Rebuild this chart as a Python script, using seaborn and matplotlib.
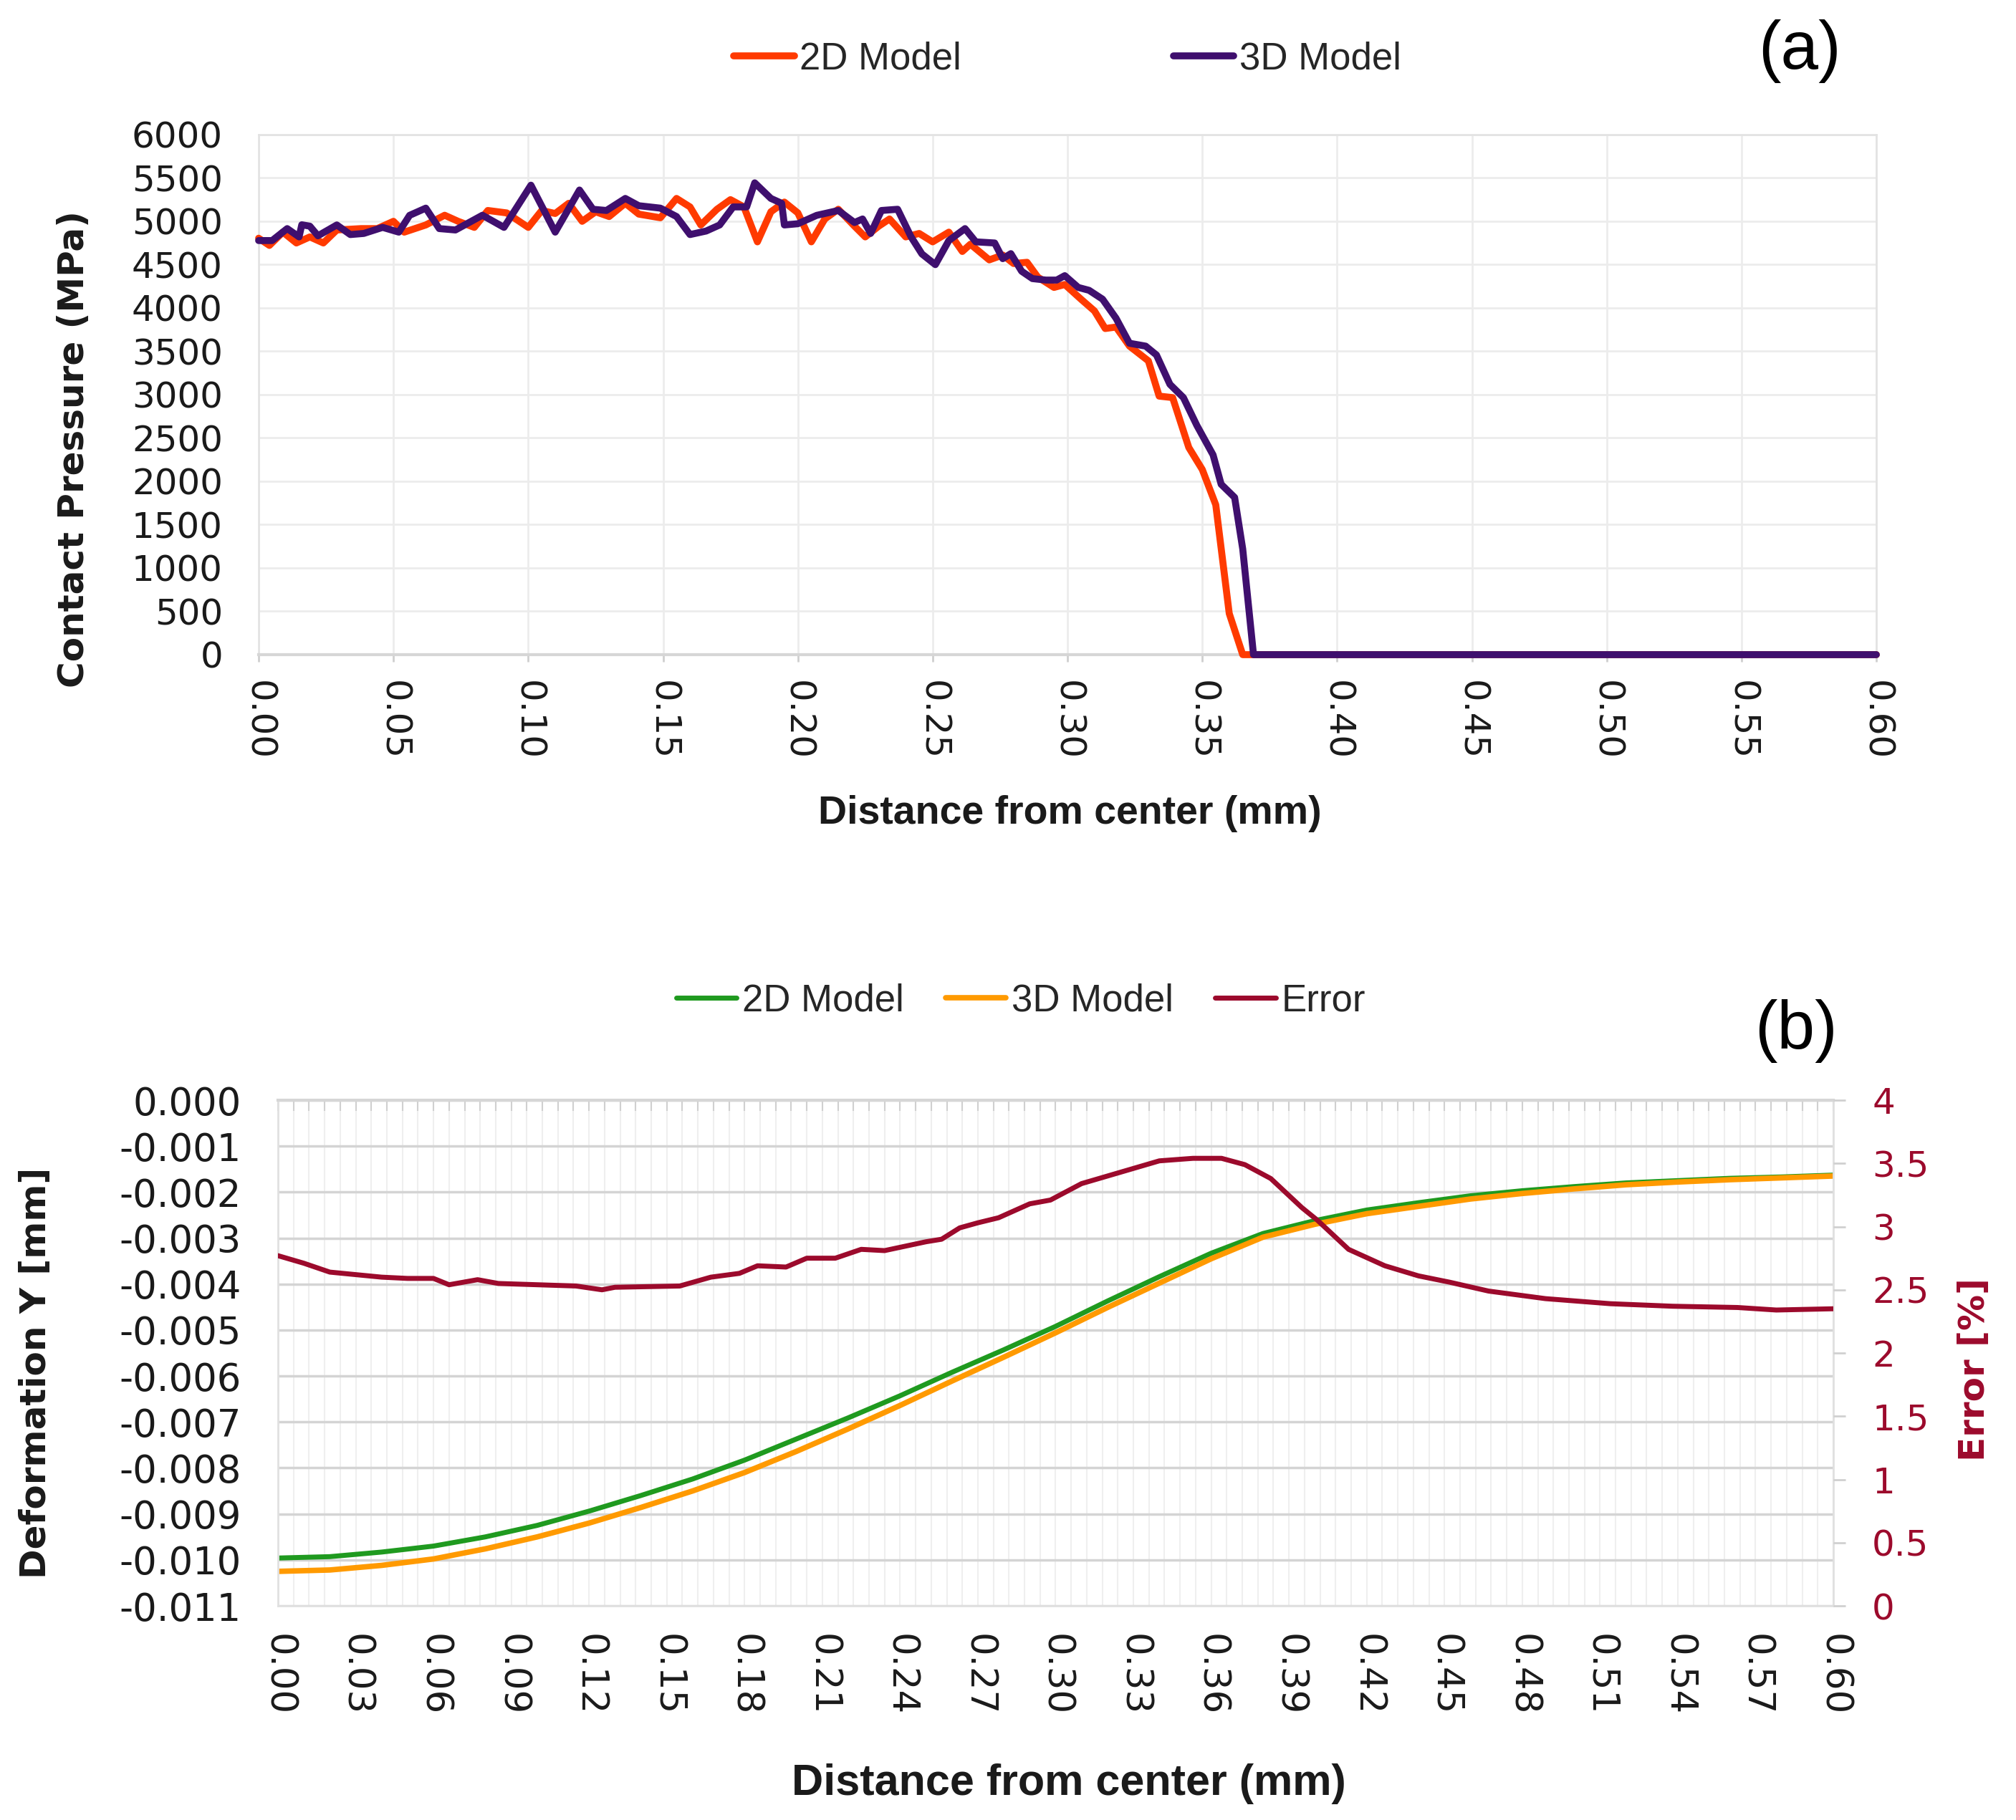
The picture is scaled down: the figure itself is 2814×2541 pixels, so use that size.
import numpy as np
import matplotlib.pyplot as plt
import seaborn as sns

# (a) contact pressure along the radius
x_2d_a = [0.000, 0.004, 0.009, 0.014, 0.019, 0.024, 0.029, 0.038, 0.044, 0.050,
          0.054, 0.062, 0.069, 0.074, 0.080, 0.085, 0.092, 0.100, 0.105, 0.110,
          0.115, 0.120, 0.125, 0.130, 0.136, 0.141, 0.149, 0.155, 0.160, 0.164,
          0.170, 0.175, 0.180, 0.185, 0.190, 0.195, 0.200, 0.205, 0.210, 0.215,
          0.221, 0.225, 0.230, 0.234, 0.240, 0.245, 0.250, 0.256, 0.261, 0.264,
          0.271, 0.276, 0.280, 0.285, 0.289, 0.295, 0.299, 0.305, 0.310, 0.314,
          0.318, 0.323, 0.330, 0.334, 0.339, 0.345, 0.350, 0.355, 0.360, 0.365,
          0.600]
p_2d_a = [4805, 4722, 4875, 4750, 4820, 4750, 4900, 4916, 4916, 5000,
          4875, 4958, 5070, 5000, 4930, 5125, 5097, 4930, 5125, 5090,
          5208, 5000, 5110, 5055, 5208, 5083, 5041, 5264, 5166, 4958,
          5139, 5250, 5166, 4763, 5110, 5222, 5097, 4763, 5027, 5139,
          4944, 4820, 4944, 5027, 4820, 4860, 4763, 4875, 4652, 4736,
          4555, 4611, 4513, 4527, 4356, 4237, 4271, 4102, 3966, 3763,
          3780, 3560, 3390, 2983, 2966, 2390, 2136, 1729, 475, 0,
          0]
x_3d_a = [0.000, 0.005, 0.0106, 0.015, 0.016, 0.019, 0.022, 0.029, 0.034, 0.039,
          0.046, 0.052, 0.056, 0.062, 0.067, 0.073, 0.083, 0.091, 0.101, 0.110,
          0.119, 0.124, 0.129, 0.136, 0.141, 0.149, 0.155, 0.160, 0.166, 0.171,
          0.176, 0.181, 0.184, 0.190, 0.194, 0.195, 0.200, 0.207, 0.215, 0.221,
          0.224, 0.227, 0.231, 0.237, 0.242, 0.246, 0.251, 0.256, 0.262, 0.266,
          0.273, 0.276, 0.279, 0.283, 0.287, 0.292, 0.296, 0.299, 0.304, 0.308,
          0.313, 0.318, 0.323, 0.329, 0.333, 0.338, 0.343, 0.348, 0.354, 0.357,
          0.362, 0.365, 0.369, 0.600]
p_3d_a = [4778, 4778, 4916, 4820, 4960, 4944, 4833, 4958, 4847, 4860,
          4930, 4875, 5069, 5152, 4916, 4900, 5070, 4930, 5417, 4875,
          5361, 5139, 5125, 5264, 5180, 5152, 5055, 4847, 4888, 4958,
          5166, 5166, 5444, 5264, 5208, 4958, 4972, 5069, 5125, 4986,
          5027, 4860, 5125, 5139, 4820, 4624, 4500, 4778, 4916, 4763,
          4750, 4569, 4627, 4424, 4339, 4322, 4322, 4373, 4237, 4204,
          4102, 3882, 3593, 3560, 3458, 3119, 2966, 2644, 2305, 1966,
          1814, 1220, 0, 0]

# (b) deformation Y (mm) and error (%)
x_def = [0.00, 0.02, 0.04, 0.06, 0.08, 0.10, 0.12, 0.14, 0.16, 0.18,
         0.20, 0.22, 0.24, 0.26, 0.28, 0.30, 0.32, 0.34, 0.36, 0.38,
         0.40, 0.42, 0.44, 0.46, 0.48, 0.50, 0.52, 0.54, 0.56, 0.58, 0.60]
def_2d = [-0.00996, -0.00993, -0.00983, -0.00970, -0.00950, -0.00925, -0.00894,
          -0.00860, -0.00824, -0.00783, -0.00737, -0.00691, -0.00643, -0.00592,
          -0.00543, -0.00492, -0.00437, -0.00384, -0.00333, -0.00290, -0.00262,
          -0.00239, -0.00223, -0.00208, -0.00197, -0.00188, -0.00180, -0.00175,
          -0.00170, -0.00167, -0.00163]
def_3d = [-0.01025, -0.01022, -0.01012, -0.00998, -0.00976, -0.00950, -0.00920,
          -0.00886, -0.00850, -0.00810, -0.00764, -0.00715, -0.00664, -0.00611,
          -0.00559, -0.00506, -0.00451, -0.00398, -0.00345, -0.00298, -0.00270,
          -0.00247, -0.00231, -0.00215, -0.00203, -0.00193, -0.00184, -0.00178,
          -0.00173, -0.00169, -0.00165]
x_err = [0.000, 0.010, 0.020, 0.030, 0.040, 0.050, 0.060, 0.066, 0.077, 0.085,
         0.100, 0.115, 0.125, 0.130, 0.155, 0.167, 0.178, 0.185, 0.196, 0.204,
         0.215, 0.225, 0.234, 0.250, 0.256, 0.263, 0.270, 0.278, 0.290, 0.298,
         0.310, 0.325, 0.340, 0.353, 0.364, 0.373, 0.383, 0.395, 0.401, 0.413,
         0.427, 0.440, 0.452, 0.467, 0.489, 0.514, 0.538, 0.563, 0.578, 0.600]
err = [2.77, 2.71, 2.64, 2.62, 2.60, 2.59, 2.59, 2.54, 2.58, 2.55,
       2.54, 2.53, 2.50, 2.52, 2.53, 2.60, 2.63, 2.69, 2.68, 2.75,
       2.75, 2.82, 2.81, 2.88, 2.90, 2.99, 3.03, 3.07, 3.18, 3.21,
       3.34, 3.43, 3.52, 3.54, 3.54, 3.49, 3.38, 3.15, 3.05, 2.82,
       2.69, 2.61, 2.56, 2.49, 2.43, 2.39, 2.37, 2.36, 2.34, 2.35]

xticks_a = [0.00, 0.05, 0.10, 0.15, 0.20, 0.25, 0.30, 0.35, 0.40, 0.45, 0.50, 0.55, 0.60]
yticks_a = [0, 500, 1000, 1500, 2000, 2500, 3000, 3500, 4000, 4500, 5000, 5500, 6000]
xticks_b = [0.00, 0.03, 0.06, 0.09, 0.12, 0.15, 0.18, 0.21, 0.24, 0.27, 0.30,
            0.33, 0.36, 0.39, 0.42, 0.45, 0.48, 0.51, 0.54, 0.57, 0.60]
yticks_b = [0.000, -0.001, -0.002, -0.003, -0.004, -0.005, -0.006,
            -0.007, -0.008, -0.009, -0.010, -0.011]
yticks_err = [0, 0.5, 1, 1.5, 2, 2.5, 3, 3.5, 4]
yticklabels_err = ['0', '0.5', '1', '1.5', '2', '2.5', '3', '3.5', '4']

sns.set_theme(style='white')
plt.rcParams['font.family'] = ['DejaVu Sans']
plt.rcParams['axes.unicode_minus'] = False

c_red = '#ff3a00'
c_purple = '#3f0f6e'
c_green = '#1f9a1f'
c_orange = '#ff9a00'
c_err = '#9c0a2c'
txt = '#1a1a1a'
leg_font = {'family': 'Liberation Sans', 'size': 38}

fig = plt.figure(figsize=(28.14, 25.41), dpi=100)

# ---------- panel (a)
ax_a = fig.add_axes([0.12829, 0.64030, 0.80242, 0.28572])
sns.lineplot(x=x_2d_a, y=p_2d_a, ax=ax_a, color=c_red, lw=7, label='2D Model')
sns.lineplot(x=x_3d_a, y=p_3d_a, ax=ax_a, color=c_purple, lw=7, label='3D Model')
for ln in ax_a.lines:
    ln.set_clip_on(False)
    ln.set_zorder(4)

ax_a.set_xlim(0, 0.6)
ax_a.set_ylim(0, 6000)
ax_a.set_xticks(xticks_a)
ax_a.set_xticklabels([f'{v:.2f}' for v in xticks_a])
ax_a.set_yticks(yticks_a)
ax_a.set_yticklabels([str(v) for v in yticks_a])
ax_a.grid(True, color='#ececec', lw=2)
ax_a.tick_params(axis='y', length=0, pad=36, labelsize=36, labelcolor=txt)
ax_a.tick_params(axis='x', bottom=True, length=7, width=2, color='#cfcfcf',
                 pad=19, labelsize=36, labelcolor=txt, labelrotation=-90)
for side in ['top', 'right', 'left']:
    ax_a.spines[side].set_color('#e3e3e3')
    ax_a.spines[side].set_linewidth(2)
ax_a.spines['bottom'].set_color('#d6d6d6')
ax_a.spines['bottom'].set_linewidth(3)
ax_a.set_xlabel('')
ax_a.set_ylabel('')
ax_a.legend(loc='center', bbox_to_anchor=(0.5295, 0.9677), bbox_transform=fig.transFigure,
            ncol=2, frameon=False, prop=leg_font, handlelength=1.6,
            handletextpad=0.15, columnspacing=5.6)

fig.text(0.0366, 0.7532, 'Contact Pressure (MPa)', rotation=90, fontsize=36,
         fontweight='bold', ha='center', va='center', color=txt)
fig.text(0.5306, 0.5529, 'Distance from center (mm)', fontsize=40, fontweight='bold',
         family='Liberation Sans', ha='center', va='center', color=txt)
fig.text(0.8927, 0.9717, '(a)', fontsize=68, family='Liberation Sans',
         ha='center', va='center', color='black')

# ---------- panel (b)
ax_b = fig.add_axes([0.13788, 0.11767, 0.77150, 0.27784])
sns.lineplot(x=x_def, y=def_2d, ax=ax_b, color=c_green, lw=5, label='2D Model')
sns.lineplot(x=x_def, y=def_3d, ax=ax_b, color=c_orange, lw=5.5, label='3D Model')
ax_b.set_xlim(0, 0.6)
ax_b.set_ylim(-0.011, 0)
ax_b.set_xticks(xticks_b)
ax_b.set_xticklabels([f'{v:.2f}' for v in xticks_b])
ax_b.set_xticks(np.arange(0, 0.6001, 0.006), minor=True)
ax_b.set_yticks(yticks_b)
ax_b.set_yticklabels(['0.000'] + [f'{v:.3f}' for v in yticks_b[1:]])
ax_b.grid(True, axis='y', color='#d4d4d4', lw=2.5)
ax_b.grid(True, axis='x', which='both', color='#efefef', lw=1.5)
ax_b.tick_params(axis='y', length=0, pad=37, labelsize=38, labelcolor=txt)
ax_b.tick_params(axis='x', which='both', bottom=False, top=True, direction='in',
                 length=11, width=1.5, color='#d0d0d0', pad=28, labelsize=37,
                 labelcolor=txt, labelrotation=-90, labelbottom=True, labeltop=False)
ax_b.spines['top'].set_color('#d6d6d6')
ax_b.spines['top'].set_linewidth(3)
for side in ['left', 'right', 'bottom']:
    ax_b.spines[side].set_color('#e0e0e0')
    ax_b.spines[side].set_linewidth(2)
ax_b.set_xlabel('')
ax_b.set_ylabel('')

ax_e = ax_b.twinx()
sns.lineplot(x=x_err, y=err, ax=ax_e, color=c_err, lw=5, label='Error')
ax_e.set_ylim(0, 4)
ax_e.set_yticks(yticks_err)
ax_e.set_yticklabels(yticklabels_err)
ax_e.grid(False)
ax_e.tick_params(axis='y', right=True, length=12, width=2, color='#d0d0d0',
                 pad=27, labelsize=36, labelcolor=c_err)
for side in ['top', 'left', 'right', 'bottom']:
    ax_e.spines[side].set_visible(False)
ax_e.set_ylabel('')

h1, l1 = ax_b.get_legend_handles_labels()
h2, l2 = ax_e.get_legend_handles_labels()
ax_b.get_legend().remove()
ax_e.get_legend().remove()
ax_e.legend(h1 + h2, l1 + l2, loc='center', bbox_to_anchor=(0.5064, 0.4502),
            bbox_transform=fig.transFigure, ncol=3, frameon=False, prop=leg_font,
            handlelength=1.6, handletextpad=0.15, columnspacing=1.1)

fig.text(0.0178, 0.2456, 'Deformation Y [mm]', rotation=90, fontsize=36,
         fontweight='bold', ha='center', va='center', color=txt)
fig.text(0.9794, 0.2475, 'Error [%]', rotation=90, fontsize=36,
         fontweight='bold', ha='center', va='center', color=c_err)
fig.text(0.530, 0.0197, 'Distance from center (mm)', fontsize=44, fontweight='bold',
         family='Liberation Sans', ha='center', va='center', color=txt)
fig.text(0.891, 0.4333, '(b)', fontsize=68, family='Liberation Sans',
         ha='center', va='center', color='black')

fig.savefig('out.png', dpi=100)
